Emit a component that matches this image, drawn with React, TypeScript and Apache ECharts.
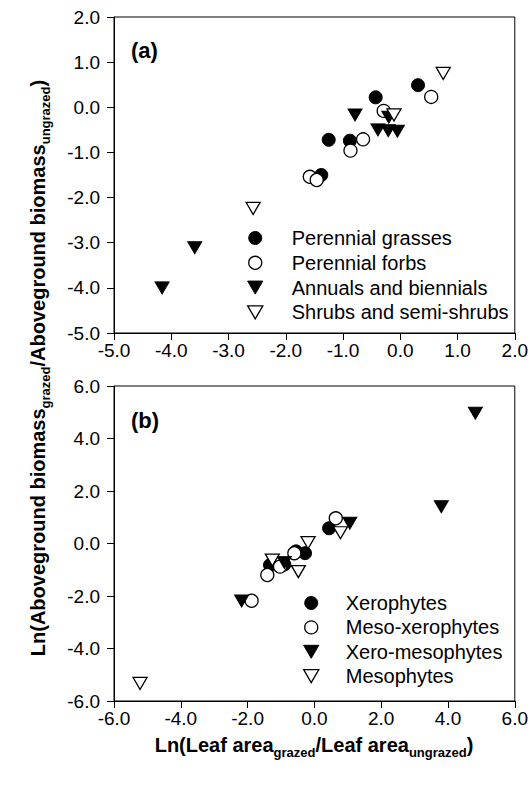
import React, { useEffect, useRef } from 'react';
import * as echarts from 'echarts';

// Axis ticks
const aXTicks = [-5, -4, -3, -2, -1, 0, 1, 2];
const aYTicks = [-5, -4, -3, -2, -1, 0, 1, 2];
const bXTicks = [-6, -4, -2, 0, 2, 4, 6];
const bYTicks = [-6, -4, -2, 0, 2, 4, 6];

// Panel (a): life forms
const aNames = ['Perennial grasses', 'Perennial forbs', 'Annuals and biennials', 'Shrubs and semi-shrubs'];
const grassesX = [0.31, -0.43, -1.25, -0.88, -1.38];
const grassesY = [0.49, 0.22, -0.72, -0.74, -1.5];
const forbsX = [0.54, -0.29, -0.65, -0.87, -1.58, -1.46];
const forbsY = [0.23, -0.08, -0.71, -0.96, -1.54, -1.61];
const annualsX = [-0.79, -0.39, -0.21, -0.05, -0.2, -3.59, -4.16];
const annualsY = [-0.17, -0.5, -0.52, -0.53, -0.22, -3.11, -4.0];
const shrubsX = [0.75, -0.11, -2.57];
const shrubsY = [0.75, -0.17, -2.24];

// Panel (b): water ecotypes
const bNames = ['Xerophytes', 'Meso-xerophytes', 'Xero-mesophytes', 'Mesophytes'];
const xeroX = [0.44, -0.28, -0.55, -0.9, -1.33];
const xeroY = [0.58, -0.37, -0.3, -0.8, -0.82];
const mesoXeroX = [0.64, -0.6, -1.03, -1.41, -1.88];
const mesoXeroY = [0.96, -0.37, -0.88, -1.2, -2.18];
const xeroMesoX = [4.82, 3.8, 1.06, -0.9, -2.18];
const xeroMesoY = [4.96, 1.4, 0.77, -0.72, -2.19];
const mesoX = [0.78, -0.19, -0.48, -1.26, -5.22];
const mesoY = [0.41, 0.03, -1.07, -0.63, -5.33];

const FONT = '"Liberation Sans", Arial, Helvetica, sans-serif';
const DOWN_TRI = 'path://M0,0L14,0L7,12Z';

const zip = (xs: number[], ys: number[]) => xs.map((x, i) => [x, ys[i]]);

const filled = { color: '#000', borderColor: '#000', borderWidth: 1, opacity: 1 };
const open = { color: '#fff', borderColor: '#000', borderWidth: 1.3, opacity: 1 };

const styles = [
  { symbol: 'circle', size: 13, item: filled },
  { symbol: 'circle', size: 13, item: open },
  { symbol: DOWN_TRI, size: [14, 12], item: filled },
  { symbol: DOWN_TRI, size: [14, 12], item: open },
];

function makeAxis(ticks: number[], gridIndex: number, isX: boolean) {
  return {
    type: 'value',
    gridIndex,
    min: ticks[0],
    max: ticks[ticks.length - 1],
    interval: ticks[1] - ticks[0],
    splitLine: { show: false },
    axisLine: { show: true, onZero: false, lineStyle: { color: '#000', width: 1 } },
    axisTick: { show: true, inside: false, length: 7, lineStyle: { color: '#000', width: 1 } },
    axisLabel: {
      color: '#000',
      fontSize: 19,
      fontFamily: FONT,
      margin: isX ? 8 : 14,
      formatter: (v: number) => v.toFixed(1),
    },
  };
}

export default function App() {
  const ref = useRef<HTMLDivElement>(null);

  useEffect(() => {
    if (!ref.current) return;
    const chart = echarts.init(ref.current, undefined, { renderer: 'svg' });

    const aData = [zip(grassesX, grassesY), zip(forbsX, forbsY), zip(annualsX, annualsY), zip(shrubsX, shrubsY)];
    const bData = [zip(xeroX, xeroY), zip(mesoXeroX, mesoXeroY), zip(xeroMesoX, xeroMesoY), zip(mesoX, mesoY)];

    const series: any[] = [];
    aNames.forEach((name, i) => {
      series.push({
        type: 'scatter',
        name,
        xAxisIndex: 0,
        yAxisIndex: 0,
        data: aData[i],
        symbol: styles[i].symbol,
        symbolSize: styles[i].size,
        itemStyle: styles[i].item,
        emphasis: { disabled: true },
        z: 2 + i,
      });
    });
    bNames.forEach((name, i) => {
      series.push({
        type: 'scatter',
        name,
        xAxisIndex: 1,
        yAxisIndex: 1,
        data: bData[i],
        symbol: styles[i].symbol,
        symbolSize: styles[i].size,
        itemStyle: styles[i].item,
        emphasis: { disabled: true },
        z: 2 + i,
      });
    });

    const legendText = { fontSize: 20, fontFamily: FONT, color: '#000', lineHeight: 20 };
    const legendItems = (names: string[]) =>
      names.map((name, i) => ({
        name,
        icon: styles[i].symbol,
        itemStyle: styles[i].item,
      }));

    const richTitle = {
      b: { fontSize: 20, fontWeight: 'bold', fontFamily: FONT, fill: '#000', lineHeight: 28 },
      s: { fontSize: 13, fontWeight: 'bold', fontFamily: FONT, fill: '#000', lineHeight: 13, verticalAlign: 'bottom' },
    };

    chart.setOption({
      animation: false,
      backgroundColor: '#fff',
      grid: [
        { left: 114, top: 17, width: 401, height: 316, show: true, borderColor: '#000', borderWidth: 1, backgroundColor: 'transparent' },
        { left: 114, top: 386, width: 401, height: 315, show: true, borderColor: '#000', borderWidth: 1, backgroundColor: 'transparent' },
      ],
      xAxis: [makeAxis(aXTicks, 0, true), makeAxis(bXTicks, 1, true)],
      yAxis: [makeAxis(aYTicks, 0, false), makeAxis(bYTicks, 1, false)],
      legend: [
        {
          orient: 'vertical',
          left: 247,
          top: 228,
          padding: 0,
          itemWidth: 63,
          itemHeight: 13,
          itemGap: 4.8,
          selectedMode: false,
          textStyle: legendText,
          data: legendItems(aNames),
        },
        {
          orient: 'vertical',
          left: 303,
          top: 593,
          padding: 0,
          itemWidth: 59,
          itemHeight: 13,
          itemGap: 4.4,
          selectedMode: false,
          textStyle: legendText,
          data: legendItems(bNames),
        },
      ],
      graphic: [
        {
          type: 'text',
          x: 131,
          y: 50,
          style: { text: '(a)', font: `bold 22px ${FONT}`, fill: '#000', verticalAlign: 'middle', align: 'left' },
        },
        {
          type: 'text',
          x: 131,
          y: 420,
          style: { text: '(b)', font: `bold 22px ${FONT}`, fill: '#000', verticalAlign: 'middle', align: 'left' },
        },
        {
          type: 'text',
          x: 314,
          y: 745,
          style: {
            text: '{b|Ln(Leaf area}{s|grazed}{b|/Leaf area}{s|ungrazed}{b|)}',
            rich: richTitle,
            align: 'center',
            verticalAlign: 'middle',
          },
        },
        {
          type: 'text',
          x: 38,
          y: 368,
          rotation: Math.PI / 2,
          style: {
            text: '{b|Ln(Aboveground biomass}{s|grazed}{b|/Aboveground biomass}{s|ungrazed}{b|)}',
            rich: richTitle,
            align: 'center',
            verticalAlign: 'middle',
          },
        },
      ],
      series,
    });

    return () => chart.dispose();
  }, []);

  return (
    <div
      ref={ref}
      style={{ position: 'fixed', left: 0, top: 0, width: 531, height: 785, background: '#fff' }}
    />
  );
}
